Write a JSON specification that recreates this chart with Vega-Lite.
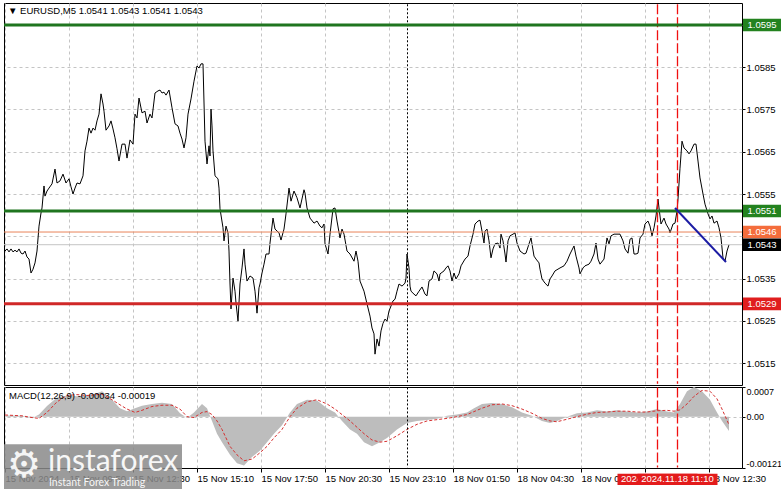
{
  "$schema": "https://vega.github.io/schema/vega-lite/v6.json",
  "padding": {"left": 2, "top": 2, "right": 0, "bottom": 0},
  "bounds": "flush",
  "spacing": 2,
  "background": "white",
  "config": {
    "view": {"stroke": "#000000", "strokeWidth": 1, "fill": "white"},
    "font": "Liberation Sans",
    "axis": {"labelFont": "Liberation Sans", "labelFontSize": 9.5, "labelColor": "#000000", "gridColor": "#c4c4c4", "gridDash": [3, 3], "gridWidth": 1, "tickColor": "#000000", "domain": false},
    "text": {"font": "Liberation Sans"}
  },
  "datasets": {
    "price": [
      {"i":0,"p":1.05415},{"i":1,"p":1.0542},{"i":2,"p":1.05413},{"i":3,"p":1.0542},{"i":4,"p":1.05413},{"i":5,"p":1.05417},{"i":6,"p":1.05413},{"i":7,"p":1.0542},{"i":8,"p":1.0541},{"i":9,"p":1.05408},{"i":10,"p":1.05415},{"i":11,"p":1.05401},{"i":12,"p":1.05396},{"i":13,"p":1.05363},{"i":14,"p":1.05372},{"i":15,"p":1.05387},{"i":16,"p":1.05415},{"i":17,"p":1.05474},{"i":18,"p":1.05505},{"i":18.5,"p":1.05517},{"i":19.5,"p":1.05569},{"i":20,"p":1.05545},{"i":21,"p":1.05557},{"i":22,"p":1.05564},{"i":23.5,"p":1.05574},{"i":25,"p":1.05609},{"i":26,"p":1.05576},{"i":27.5,"p":1.05581},{"i":29,"p":1.05597},{"i":30.5,"p":1.05576},{"i":32,"p":1.05586},{"i":33,"p":1.05567},{"i":34,"p":1.0555},{"i":35,"p":1.05564},{"i":36,"p":1.05576},{"i":37.5,"p":1.05574},{"i":39,"p":1.05593},{"i":40,"p":1.05652},{"i":41,"p":1.05675},{"i":42,"p":1.05706},{"i":43,"p":1.05694},{"i":44,"p":1.05706},{"i":45,"p":1.05701},{"i":46,"p":1.05723},{"i":47,"p":1.05739},{"i":48,"p":1.05787},{"i":49,"p":1.05763},{"i":49.5,"p":1.05746},{"i":50.5,"p":1.05701},{"i":52,"p":1.05711},{"i":53,"p":1.05723},{"i":54,"p":1.05704},{"i":55,"p":1.05683},{"i":56,"p":1.05657},{"i":57,"p":1.05628},{"i":58.5,"p":1.05668},{"i":60,"p":1.05668},{"i":61,"p":1.05635},{"i":62.5,"p":1.05678},{"i":64,"p":1.05668},{"i":65,"p":1.05739},{"i":66,"p":1.0573},{"i":67,"p":1.05777},{"i":68.5,"p":1.05742},{"i":70,"p":1.05746},{"i":71,"p":1.05718},{"i":72.5,"p":1.05739},{"i":73.5,"p":1.0573},{"i":75,"p":1.05789},{"i":76.5,"p":1.05794},{"i":77.5,"p":1.05796},{"i":78.5,"p":1.05789},{"i":79.5,"p":1.05791},{"i":80.5,"p":1.05784},{"i":82,"p":1.05796},{"i":83.5,"p":1.05754},{"i":85,"p":1.05716},{"i":86.5,"p":1.05711},{"i":87.5,"p":1.05694},{"i":88.5,"p":1.0568},{"i":89.5,"p":1.05659},{"i":90.5,"p":1.05683},{"i":91.5,"p":1.05739},{"i":93,"p":1.05775},{"i":94.5,"p":1.05817},{"i":96,"p":1.05853},{"i":97,"p":1.05848},{"i":98,"p":1.05858},{"i":99,"p":1.05858},{"i":100,"p":1.05675},{"i":101,"p":1.05621},{"i":102,"p":1.05664},{"i":102.5,"p":1.0564},{"i":103,"p":1.05751},{"i":103.5,"p":1.05711},{"i":104,"p":1.05652},{"i":105,"p":1.05593},{"i":106.5,"p":1.05586},{"i":107,"p":1.05564},{"i":107.5,"p":1.05515},{"i":109,"p":1.0547},{"i":109.5,"p":1.05439},{"i":110.5,"p":1.05474},{"i":111.5,"p":1.05458},{"i":112,"p":1.05415},{"i":112.5,"p":1.05337},{"i":113,"p":1.05278},{"i":114,"p":1.05351},{"i":115,"p":1.0532},{"i":115.5,"p":1.05292},{"i":116.5,"p":1.05249},{"i":117.5,"p":1.05337},{"i":118.5,"p":1.05375},{"i":119.5,"p":1.0542},{"i":120,"p":1.05384},{"i":121,"p":1.05344},{"i":122.5,"p":1.05356},{"i":124,"p":1.05351},{"i":125,"p":1.0532},{"i":126,"p":1.05268},{"i":127,"p":1.05328},{"i":127.5,"p":1.05337},{"i":128.5,"p":1.05363},{"i":129.5,"p":1.05384},{"i":130.5,"p":1.05408},{"i":132,"p":1.05408},{"i":132.5,"p":1.05434},{"i":134,"p":1.05493},{"i":135,"p":1.05467},{"i":137,"p":1.05458},{"i":138,"p":1.05441},{"i":139.5,"p":1.05467},{"i":140.5,"p":1.05503},{"i":142,"p":1.05564},{"i":143,"p":1.05533},{"i":144.5,"p":1.05557},{"i":146,"p":1.05541},{"i":147.5,"p":1.05517},{"i":149.5,"p":1.0556},{"i":150,"p":1.05552},{"i":151,"p":1.05517},{"i":152.5,"p":1.05493},{"i":154.5,"p":1.05481},{"i":156,"p":1.05486},{"i":157.5,"p":1.05474},{"i":158.5,"p":1.0547},{"i":159.5,"p":1.05479},{"i":160,"p":1.05432},{"i":161.5,"p":1.05408},{"i":162.5,"p":1.05455},{"i":164,"p":1.05515},{"i":165,"p":1.05517},{"i":166,"p":1.05486},{"i":167.5,"p":1.05446},{"i":168.5,"p":1.05467},{"i":169.5,"p":1.05455},{"i":171,"p":1.05415},{"i":172.5,"p":1.05408},{"i":174.5,"p":1.05391},{"i":175.5,"p":1.05415},{"i":176.5,"p":1.05391},{"i":177.5,"p":1.05344},{"i":179.5,"p":1.0532},{"i":181,"p":1.0529},{"i":182.5,"p":1.05261},{"i":183.5,"p":1.05233},{"i":184.5,"p":1.05219},{"i":185,"p":1.05171},{"i":186,"p":1.05207},{"i":187,"p":1.0519},{"i":188,"p":1.05226},{"i":189,"p":1.05244},{"i":190,"p":1.05254},{"i":191,"p":1.05249},{"i":192,"p":1.05273},{"i":193,"p":1.05285},{"i":194,"p":1.05297},{"i":195,"p":1.05301},{"i":196,"p":1.0532},{"i":197,"p":1.05337},{"i":198.5,"p":1.05332},{"i":200,"p":1.05339},{"i":200.5,"p":1.05351},{"i":201,"p":1.05408},{"i":202,"p":1.05375},{"i":202.5,"p":1.05332},{"i":203,"p":1.0532},{"i":204.5,"p":1.05313},{"i":205.5,"p":1.05309},{"i":207,"p":1.0532},{"i":208.5,"p":1.0533},{"i":210,"p":1.05313},{"i":211,"p":1.05309},{"i":212,"p":1.05344},{"i":213.5,"p":1.05349},{"i":214.5,"p":1.05368},{"i":216,"p":1.05361},{"i":217,"p":1.05344},{"i":217.5,"p":1.05361},{"i":219.5,"p":1.05368},{"i":220.5,"p":1.05375},{"i":221.5,"p":1.0538},{"i":222.5,"p":1.05368},{"i":223.5,"p":1.05344},{"i":224.5,"p":1.05363},{"i":225.5,"p":1.05349},{"i":227,"p":1.05361},{"i":228,"p":1.0538},{"i":230,"p":1.05396},{"i":231.5,"p":1.05403},{"i":232.5,"p":1.05427},{"i":234,"p":1.05455},{"i":235,"p":1.05479},{"i":236.5,"p":1.05486},{"i":237.5,"p":1.05488},{"i":238.5,"p":1.05462},{"i":239.5,"p":1.05434},{"i":240,"p":1.05462},{"i":241,"p":1.05467},{"i":242,"p":1.05439},{"i":243,"p":1.05399},{"i":244,"p":1.0542},{"i":245,"p":1.05432},{"i":246.5,"p":1.05434},{"i":247.5,"p":1.05422},{"i":248,"p":1.05455},{"i":249,"p":1.05439},{"i":250,"p":1.05408},{"i":250.5,"p":1.05389},{"i":251.5,"p":1.05439},{"i":252.5,"p":1.05451},{"i":254,"p":1.05455},{"i":255,"p":1.05458},{"i":256,"p":1.05434},{"i":257.5,"p":1.05415},{"i":259.5,"p":1.05408},{"i":260.5,"p":1.0541},{"i":262,"p":1.05432},{"i":263,"p":1.05446},{"i":264.5,"p":1.05403},{"i":265.5,"p":1.05396},{"i":267,"p":1.05387},{"i":267.5,"p":1.05372},{"i":268.5,"p":1.05349},{"i":270,"p":1.05339},{"i":271.5,"p":1.05332},{"i":272.5,"p":1.05349},{"i":273.5,"p":1.05356},{"i":275,"p":1.05368},{"i":277.5,"p":1.05375},{"i":279.5,"p":1.0538},{"i":281,"p":1.05391},{"i":282.5,"p":1.05408},{"i":284.5,"p":1.05427},{"i":285.5,"p":1.05403},{"i":287,"p":1.05375},{"i":287.5,"p":1.05361},{"i":289,"p":1.05375},{"i":290,"p":1.0538},{"i":292,"p":1.05384},{"i":293,"p":1.05391},{"i":294.5,"p":1.05408},{"i":295.5,"p":1.05434},{"i":296.5,"p":1.05396},{"i":297.5,"p":1.05384},{"i":299.5,"p":1.05396},{"i":301,"p":1.05446},{"i":302,"p":1.05432},{"i":303,"p":1.05451},{"i":304.5,"p":1.05455},{"i":306,"p":1.05455},{"i":307.5,"p":1.05455},{"i":309,"p":1.05439},{"i":310,"p":1.0542},{"i":311.5,"p":1.0541},{"i":312.5,"p":1.05443},{"i":313.5,"p":1.05446},{"i":314.5,"p":1.05408},{"i":315.5,"p":1.05408},{"i":316.5,"p":1.0541},{"i":317.5,"p":1.05446},{"i":319,"p":1.05455},{"i":320,"p":1.05479},{"i":321.5,"p":1.05486},{"i":322.5,"p":1.05474},{"i":323.5,"p":1.05451},{"i":324.5,"p":1.0547},{"i":325.5,"p":1.05498},{"i":326.5,"p":1.05538},{"i":327,"p":1.05517},{"i":328,"p":1.05479},{"i":329.5,"p":1.05493},{"i":330.5,"p":1.05479},{"i":332,"p":1.05467},{"i":332.5,"p":1.05458},{"i":334,"p":1.05479},{"i":335,"p":1.05481},{"i":336,"p":1.0551},{"i":336.5,"p":1.05538},{"i":337.5,"p":1.05611},{"i":338.5,"p":1.05675},{"i":339.5,"p":1.05659},{"i":341,"p":1.05652},{"i":342,"p":1.05645},{"i":343,"p":1.05652},{"i":344.5,"p":1.05668},{"i":345.5,"p":1.05668},{"i":346.5,"p":1.05628},{"i":347.5,"p":1.05588},{"i":349,"p":1.0555},{"i":350,"p":1.05526},{"i":351.5,"p":1.05503},{"i":352.5,"p":1.05491},{"i":353.5,"p":1.05498},{"i":354.5,"p":1.05481},{"i":356,"p":1.05486},{"i":357,"p":1.0547},{"i":358,"p":1.05446},{"i":359,"p":1.05399},{"i":360,"p":1.05391},{"i":361,"p":1.05415},{"i":362,"p":1.0543}
    ],
    "macd": [
      {"i":0,"m":0.00003,"s":0.00004},{"i":8.5,"m":0.00002,"s":0.00002},{"i":13.5,"m":-0.00003,"s":-0.00002},{"i":17,"m":0.00005,"s":-0.00004},{"i":21,"m":0.00025,"s":0.0001},{"i":26,"m":0.00045,"s":0.00035},{"i":31,"m":0.0005,"s":0.0005},{"i":36,"m":0.00048,"s":0.00052},{"i":41,"m":0.0005,"s":0.0005},{"i":46,"m":0.00055,"s":0.00052},{"i":48.5,"m":0.0006,"s":0.00053},{"i":53.5,"m":0.0004,"s":0.0004},{"i":57.5,"m":0.0002,"s":0.00028},{"i":61,"m":0.00013,"s":0.00018},{"i":65,"m":0.0002,"s":0.0001},{"i":68.5,"m":0.00026,"s":0.00015},{"i":73.5,"m":0.0003,"s":0.00024},{"i":78.5,"m":0.00033,"s":0.00027},{"i":83.5,"m":0.0003,"s":0.00027},{"i":87.5,"m":0.00008,"s":0.00018},{"i":91,"m":-0.00003,"s":0.0},{"i":94.5,"m":0.0001,"s":-0.00002},{"i":98.5,"m":0.0003,"s":0.0001},{"i":101,"m":0.0002,"s":0.00012},{"i":103.5,"m":-0.0001,"s":0.00005},{"i":106,"m":-0.0004,"s":-0.0001},{"i":108.5,"m":-0.0006,"s":-0.0003},{"i":112.5,"m":-0.0009,"s":-0.0007},{"i":116,"m":-0.0011,"s":-0.0009},{"i":119.5,"m":-0.00115,"s":-0.00104},{"i":123.5,"m":-0.00095,"s":-0.001},{"i":127.5,"m":-0.0008,"s":-0.00085},{"i":131,"m":-0.0006,"s":-0.0007},{"i":134.5,"m":-0.0004,"s":-0.0005},{"i":138.5,"m":-0.0002,"s":-0.0003},{"i":142.5,"m":0.0001,"s":0.0},{"i":146,"m":0.0003,"s":0.0002},{"i":151,"m":0.0004,"s":0.00035},{"i":156,"m":0.00038,"s":0.0004},{"i":161,"m":0.0002,"s":0.0003},{"i":165,"m":0.0001,"s":0.00018},{"i":168.5,"m":-0.0001,"s":0.00005},{"i":172.5,"m":-0.0003,"s":-0.0001},{"i":176,"m":-0.0004,"s":-0.00025},{"i":179.5,"m":-0.0006,"s":-0.0004},{"i":183.5,"m":-0.0007,"s":-0.00055},{"i":187.5,"m":-0.0006,"s":-0.0006},{"i":191,"m":-0.0005,"s":-0.00058},{"i":196,"m":-0.0003,"s":-0.00045},{"i":201,"m":-0.00015,"s":-0.0003},{"i":206,"m":-0.0001,"s":-0.00018},{"i":211,"m":-0.00008,"s":-0.0001},{"i":216,"m":-0.00005,"s":-0.00007},{"i":221,"m":0.00002,"s":-0.00004},{"i":226,"m":0.00005,"s":0.0},{"i":231,"m":0.0001,"s":0.00005},{"i":234.5,"m":0.0002,"s":0.00012},{"i":238.5,"m":0.0003,"s":0.0002},{"i":243.5,"m":0.00032,"s":0.00028},{"i":248.5,"m":0.0003,"s":0.0003},{"i":253.5,"m":0.00022,"s":0.00026},{"i":258.5,"m":0.0001,"s":0.00018},{"i":263.5,"m":0.00002,"s":0.00008},{"i":268.5,"m":-0.0001,"s":-0.00004},{"i":272.5,"m":-0.00015,"s":-0.0001},{"i":276,"m":-0.0001,"s":-0.00012},{"i":281,"m":0.0,"s":-0.00006},{"i":286,"m":0.00008,"s":0.0},{"i":291,"m":0.0001,"s":0.00006},{"i":296,"m":0.00015,"s":0.0001},{"i":301,"m":0.00012,"s":0.00011},{"i":306,"m":0.00015,"s":0.00013},{"i":311,"m":0.00012,"s":0.00013},{"i":316,"m":0.0001,"s":0.00011},{"i":321,"m":0.00012,"s":0.00011},{"i":326,"m":0.00018,"s":0.00014},{"i":331,"m":0.00012,"s":0.00015},{"i":334.5,"m":0.0001,"s":0.00013},{"i":337.5,"m":0.0003,"s":0.00016},{"i":341,"m":0.0006,"s":0.0003},{"i":344.5,"m":0.0007,"s":0.00048},{"i":348.5,"m":0.0006,"s":0.00062},{"i":352.5,"m":0.0004,"s":0.0006},{"i":356,"m":0.0001,"s":0.00042},{"i":358.5,"m":-0.0001,"s":0.00018},{"i":362,"m":-0.00034,"s":-0.00019}
    ],
    "levels": [
      {"p":1.0595,"kind":"tp"},
      {"p":1.0551,"kind":"entry"},
      {"p":1.0546,"kind":"open"},
      {"p":1.0543,"kind":"bid"},
      {"p":1.0529,"kind":"stop"}
    ],
    "vlines": [
      {"i":201.25,"kind":"separator"},
      {"i":326.25,"kind":"signal"},
      {"i":336.25,"kind":"signal"}
    ],
    "trend": [
      {"i":335,"p":1.05517},
      {"i":360.5,"p":1.05389}
    ],
    "timetags": [
      {"i":326.25,"t":"2024.11.18 10:20"},
      {"i":336.25,"t":"2024.11.18 11:10"}
    ]
  },
  "vconcat": [
    {
      "width": 738,
      "height": 382,
      "layer": [
        {
          "data": {"name": "price"},
          "mark": {"type": "line", "color": "#000000", "strokeWidth": 1},
          "encoding": {
            "x": {"field": "i", "type": "quantitative", "scale": {"domain": [-0.5, 368.5], "nice": false, "zero": false},
              "axis": {"values": [0,16,32,48,64,80,96,112,128,144,160,176,192,208,224,240,256,272,288,304,320,336,352,368], "labels": false, "ticks": false, "domain": false, "grid": true, "title": null}},
            "y": {"field": "p", "type": "quantitative", "scale": {"domain": [1.05098, 1.06002], "nice": false, "zero": false},
              "axis": {"orient": "right", "values": [1.0515,1.0525,1.0535,1.0545,1.0555,1.0565,1.0575,1.0585,1.0595], "format": ".4f", "labelExpr": "(datum.value > 1.0594 || (datum.value > 1.0544 && datum.value < 1.0546)) ? '' : datum.label", "grid": true, "ticks": true, "tickSize": 3, "labelPadding": 1, "labelOverlap": false, "title": null}}
          }
        },
        {
          "data": {"name": "vlines"},
          "transform": [{"filter": "datum.kind === 'separator'"}],
          "mark": {"type": "rule", "strokeWidth": 1, "color": "#000000", "stroke": "#000000", "strokeDash": [2, 2]},
          "encoding": {"x": {"field": "i", "type": "quantitative"}, "y": {"datum": 1.05999}, "y2": {"datum": 1.05101}}
        },
        {
          "data": {"name": "vlines"},
          "transform": [{"filter": "datum.kind === 'signal'"}],
          "mark": {"type": "rule", "strokeWidth": 1.3, "color": "#f01010", "stroke": "#f01010", "strokeDash": [10, 3]},
          "encoding": {"x": {"field": "i", "type": "quantitative"}, "y": {"datum": 1.05999}, "y2": {"datum": 1.05101}}
        },
        {
          "data": {"name": "levels"},
          "transform": [{"filter": "datum.kind === 'open' || datum.kind === 'bid'"}],
          "mark": {"type": "rule", "strokeWidth": 1},
          "encoding": {
            "y": {"field": "p", "type": "quantitative"},
            "color": {"field": "kind", "type": "nominal", "scale": {"domain": ["tp","entry","open","bid","stop"], "range": ["#1f751f","#1f751f","#e9835a","#c4c4c4","#d02828"]}, "legend": null}
          }
        },
        {
          "data": {"name": "levels"},
          "transform": [{"filter": "datum.kind !== 'open' && datum.kind !== 'bid'"}],
          "mark": {"type": "rule", "strokeWidth": 3},
          "encoding": {
            "y": {"field": "p", "type": "quantitative"},
            "color": {"field": "kind", "type": "nominal", "scale": {"domain": ["tp","entry","open","bid","stop"], "range": ["#1f751f","#1f751f","#e9835a","#c4c4c4","#d02828"]}, "legend": null}
          }
        },
        {
          "data": {"name": "trend"},
          "mark": {"type": "line", "color": "#1c1ca4", "strokeWidth": 2},
          "encoding": {
            "x": {"field": "i", "type": "quantitative"},
            "y": {"field": "p", "type": "quantitative"}
          }
        },
        {
          "data": {"name": "levels"},
          "mark": {"type": "point", "shape": "M-1,-0.33L1,-0.33L1,0.33L-1,0.33Z", "filled": true, "size": 1444, "opacity": 1, "strokeWidth": 0, "clip": false},
          "encoding": {
            "x": {"datum": 378.5},
            "y": {"field": "p", "type": "quantitative"},
            "fill": {"field": "kind", "type": "nominal", "scale": {"domain": ["tp","entry","open","bid","stop"], "range": ["#23821f","#23821f","#f46d3c","#000000","#e01e1e"]}, "legend": null}
          }
        },
        {
          "data": {"name": "levels"},
          "mark": {"type": "text", "color": "#ffffff", "fontSize": 9.5, "align": "center", "baseline": "middle", "clip": false},
          "encoding": {
            "x": {"datum": 378.5},
            "y": {"field": "p", "type": "quantitative"},
            "text": {"field": "p", "type": "quantitative", "format": ".4f"}
          }
        },
        {
          "data": {"values": [{"t": "▼ EURUSD,M5  1.0541 1.0543 1.0541 1.0543"}]},
          "mark": {"type": "text", "color": "#000000", "fontSize": 9.5, "align": "left", "baseline": "middle"},
          "encoding": {
            "x": {"datum": 1.5},
            "y": {"datum": 1.05983},
            "text": {"field": "t"}
          }
        }
      ]
    },
    {
      "width": 738,
      "height": 81,
      "layer": [
        {
          "data": {"name": "macd"},
          "mark": {"type": "area", "color": "#bdbdbd", "opacity": 1},
          "encoding": {
            "x": {"field": "i", "type": "quantitative", "scale": {"domain": [-0.5, 368.5], "nice": false, "zero": false},
              "axis": {"values": [0,16,32,48,64,80,96,112,128,144,160,176,192,208,224,240,256,272,288,304,320,336,352,368], "grid": true, "domain": false, "tickSize": 4,
                "tickOpacity": {"condition": {"test": "datum.value % 32 === 0", "value": 1}, "value": 0},
                "labelExpr": "(datum.value % 32 === 0 && datum.value <= 352) ? ['15 Nov 2024','15 Nov 09:50','15 Nov 12:30','15 Nov 15:10','15 Nov 17:50','15 Nov 20:30','15 Nov 23:10','18 Nov 01:50','18 Nov 04:30','18 Nov 07:10','18 Nov 09:50','18 Nov 12:30'][datum.value / 32] : ''",
                "labelAlign": "left", "labelFlush": false, "labelOverlap": false, "labelPadding": 1, "title": null}},
            "y": {"field": "m", "type": "quantitative", "scale": {"domain": [-0.00121, 0.0007], "nice": false, "zero": false},
              "axis": {"orient": "right", "values": [-0.00121, 0, 0.0007], "labelExpr": "datum.value > 0.0001 ? '0.0007' : (datum.value < -0.0001 ? '-0.00121' : '0.00')", "grid": true,
                "gridOpacity": {"condition": {"test": "abs(datum.value) < 0.00001", "value": 1}, "value": 0},
                "labelFlush": true, "labelFontSize": 9, "tickSize": 3, "labelPadding": 1, "labelOverlap": false, "title": null}},
            "y2": {"datum": 0}
          }
        },
        {
          "data": {"name": "macd"},
          "mark": {"type": "line", "color": "#d63030", "strokeWidth": 1, "strokeDash": [3, 2]},
          "encoding": {
            "x": {"field": "i", "type": "quantitative"},
            "y": {"field": "s", "type": "quantitative"}
          }
        },
        {
          "data": {"name": "vlines"},
          "transform": [{"filter": "datum.kind === 'separator'"}],
          "mark": {"type": "rule", "strokeWidth": 1, "color": "#000000", "stroke": "#000000", "strokeDash": [2, 2]},
          "encoding": {"x": {"field": "i", "type": "quantitative"}, "y": {"datum": 0.00069}, "y2": {"datum": -0.0012}}
        },
        {
          "data": {"name": "vlines"},
          "transform": [{"filter": "datum.kind === 'signal'"}],
          "mark": {"type": "rule", "strokeWidth": 1.3, "color": "#f01010", "stroke": "#f01010", "strokeDash": [10, 3]},
          "encoding": {"x": {"field": "i", "type": "quantitative"}, "y": {"datum": 0.00069}, "y2": {"datum": -0.0012}}
        },
        {
          "data": {"values": [{"t": "MACD(12,26,9) -0.00034 -0.00019"}]},
          "mark": {"type": "text", "color": "#000000", "fontSize": 9.5, "align": "left", "baseline": "middle"},
          "encoding": {
            "x": {"datum": 2},
            "y": {"datum": 0.000488},
            "text": {"field": "t"}
          }
        },
        {
          "data": {"values": [{"t": "watermark"}]},
          "mark": {"type": "rect", "color": "#8a8a8a", "opacity": 0.85, "clip": false},
          "encoding": {
            "x": {"datum": -0.5},
            "x2": {"datum": 88.5},
            "y": {"datum": -0.00065},
            "y2": {"datum": -0.00175}
          }
        },
        {
          "data": {"values": [{"t": "⚙"}]},
          "mark": {"type": "text", "color": "#ffffff", "opacity": 0.9, "fontSize": 38, "font": "DejaVu Sans", "align": "center", "baseline": "middle", "clip": false},
          "encoding": {
            "x": {"datum": 9.5},
            "y": {"datum": -0.00117},
            "text": {"field": "t"}
          }
        },
        {
          "data": {"values": [{"t": "instaforex"}]},
          "mark": {"type": "text", "color": "#ffffff", "opacity": 0.92, "fontSize": 30, "font": "Lato", "align": "left", "baseline": "alphabetic", "clip": false},
          "encoding": {
            "x": {"datum": 21.5},
            "y": {"datum": -0.00128},
            "text": {"field": "t"}
          }
        },
        {
          "data": {"values": [{"t": "Instant Forex Trading"}]},
          "mark": {"type": "text", "color": "#ffffff", "opacity": 0.92, "fontSize": 10.5, "font": "Lato", "align": "left", "baseline": "alphabetic", "clip": false},
          "encoding": {
            "x": {"datum": 22},
            "y": {"datum": -0.001634},
            "text": {"field": "t"}
          }
        },
        {
          "data": {"name": "timetags"},
          "transform": [{"filter": "datum.i < 330"}],
          "mark": {"type": "point", "shape": "M-1,-0.14L1,-0.14L1,0.14L-1,0.14Z", "filled": true, "size": 6400, "opacity": 1, "strokeWidth": 0, "color": "#e31b1b", "clip": false},
          "encoding": {
            "x": {"field": "i", "type": "quantitative"},
            "y": {"datum": -0.00148}
          }
        },
        {
          "data": {"name": "timetags"},
          "transform": [{"filter": "datum.i < 330"}],
          "mark": {"type": "text", "color": "#ffffff", "fontSize": 9.5, "align": "center", "baseline": "middle", "clip": false},
          "encoding": {
            "x": {"field": "i", "type": "quantitative"},
            "y": {"datum": -0.00148},
            "text": {"field": "t"}
          }
        },
        {
          "data": {"name": "timetags"},
          "transform": [{"filter": "datum.i > 330"}],
          "mark": {"type": "point", "shape": "M-1,-0.14L1,-0.14L1,0.14L-1,0.14Z", "filled": true, "size": 6400, "opacity": 1, "strokeWidth": 0, "color": "#e31b1b", "clip": false},
          "encoding": {
            "x": {"field": "i", "type": "quantitative"},
            "y": {"datum": -0.00148}
          }
        },
        {
          "data": {"name": "timetags"},
          "transform": [{"filter": "datum.i > 330"}],
          "mark": {"type": "text", "color": "#ffffff", "fontSize": 9.5, "align": "center", "baseline": "middle", "clip": false},
          "encoding": {
            "x": {"field": "i", "type": "quantitative"},
            "y": {"datum": -0.00148},
            "text": {"field": "t"}
          }
        }
      ]
    }
  ]
}
